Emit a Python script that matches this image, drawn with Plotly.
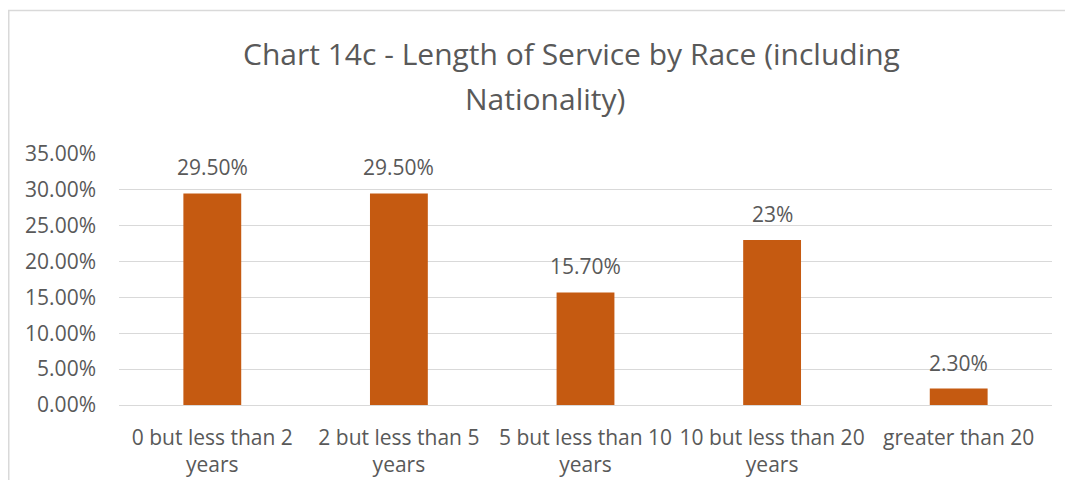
import plotly.graph_objects as go

# Chart data
categories = ['0 but less than 2 years', '2 but less than 5 years',
              '5 but less than 10 years', '10 but less than 20 years',
              'greater than 20']
tick_labels = ['0 but less than 2<br>years', '2 but less than 5<br>years',
               '5 but less than 10<br>years', '10 but less than 20<br>years',
               'greater than 20']
values = [0.295, 0.295, 0.157, 0.23, 0.023]
value_labels = ['29.50%', '29.50%', '15.70%', '23%', '2.30%']
title_lines = ['Chart 14c - Length of Service by Race (including', 'Nationality)']

TEXT = '#595959'
GRID = '#D9D9D9'
FONT = 'Open Sans'

# the page body has an 8px margin, so the figure is sized to fit inside it
W, H = 1057, 472
ML, MR, MT, MB = 111, 13, 146, 75
pw, ph = W - ML - MR, H - MT - MB


def px(x):
    # figure pixel x -> paper x
    return (x - ML) / pw


def py(y):
    # figure pixel y (from top) -> paper y
    return (H - MB - y) / ph


fig = go.Figure()

fig.add_trace(
    go.Bar(
        x=categories,
        y=values,
        marker=dict(color='#C55A11', line=dict(width=0)),
        hoverinfo='x+y'
    )
)

# data labels above the bars
for cat, val, lab in zip(categories, values, value_labels):
    fig.add_annotation(
        x=cat, y=val, text=lab, showarrow=False,
        yanchor='bottom', yshift=10,
        font=dict(family=FONT, size=21, color=TEXT)
    )

# title, one annotation per line
for line, (cx, cy) in zip(title_lines, [(563, 46), (537, 90)]):
    fig.add_annotation(
        xref='paper', yref='paper', x=px(cx), y=py(cy),
        xanchor='center', yanchor='middle', text=line, showarrow=False,
        font=dict(family=FONT, size=30, color=TEXT)
    )

# outer chart border
fig.add_shape(
    type='rect', xref='paper', yref='paper',
    x0=px(0.75), x1=px(W + 5), y0=py(H + 5), y1=py(2.5),
    line=dict(color=GRID, width=1.5), layer='below'
)

fig.update_layout(
    width=W, height=H,
    margin=dict(l=ML, r=MR, t=MT, b=MB),
    paper_bgcolor='white',
    plot_bgcolor='white',
    showlegend=False,
    bargap=0.69,
    font=dict(family=FONT, color=TEXT),
    xaxis=dict(
        tickmode='array', tickvals=categories, ticktext=tick_labels,
        tickfont=dict(size=21, color=TEXT), automargin=False,
        showgrid=False, showline=False, ticks='', ticklabelstandoff=18
    ),
    yaxis=dict(
        range=[0, 0.35], dtick=0.05, tickformat='.2%',
        tickfont=dict(size=21, color=TEXT), automargin=False,
        showgrid=True, gridcolor=GRID, gridwidth=1,
        zeroline=True, zerolinecolor=GRID, zerolinewidth=1,
        showline=False, ticks='', ticklabelstandoff=22
    )
)

fig.write_html('out.html')
